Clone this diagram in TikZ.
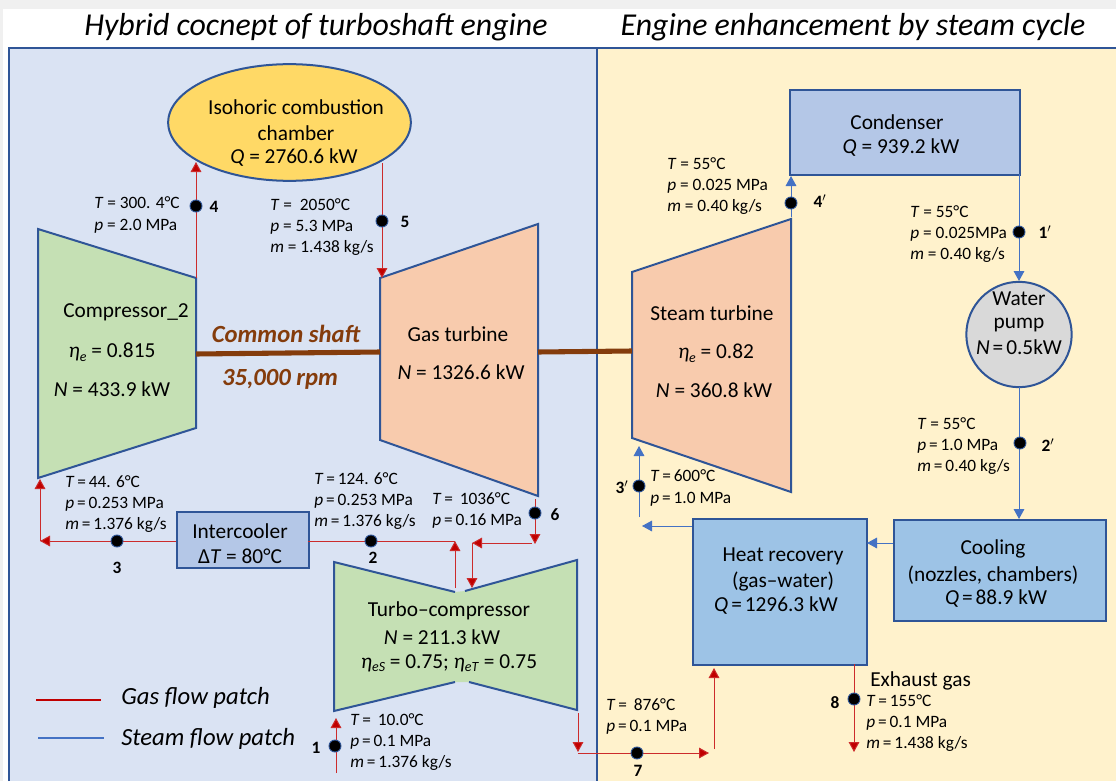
\documentclass[tikz,border=0pt]{standalone}
\usepackage{fontspec}
\setmainfont{Carlito}
\usetikzlibrary{arrows.meta,shapes.geometric}
\definecolor{edgeblue}{HTML}{2F5597}
\definecolor{gasred}{HTML}{C00000}
\definecolor{gaspale}{HTML}{CC2B2B}
\definecolor{steamblue}{HTML}{4472C4}
\definecolor{panelblue}{HTML}{DAE3F3}
\definecolor{panelcream}{HTML}{FFF2CC}
\definecolor{compgreen}{HTML}{C5E0B4}
\definecolor{turborange}{HTML}{F8CBAD}
\definecolor{burnyellow}{HTML}{FFD966}
\definecolor{boxblue}{HTML}{B4C7E7}
\definecolor{boxsky}{HTML}{9DC3E6}
\definecolor{pumpgrey}{HTML}{D9D9D9}
\definecolor{shaftbrown}{HTML}{843C0C}
\newcommand{\vv}[1]{\textit{#1}}
\newcommand{\teq}{\kern2.2pt=\kern2.2pt}
\newcommand{\lsub}[1]{\raisebox{-0.35ex}{\fontsize{10.5}{10.5}\selectfont\textit{#1}}}
\tikzset{
  x=0.75pt,y=-0.75pt,
  outlined/.style={draw=edgeblue,line width=1.5pt},
  gasflow/.style={draw=gaspale,line width=0.75pt,-{Triangle[length=7.5pt,width=8pt,fill=gasred]}},
  gasline/.style={draw=gaspale,line width=0.75pt},
  steamflow/.style={draw=steamblue,line width=0.75pt,-{Triangle[length=7.5pt,width=8pt,fill=steamblue]}},
  statedot/.style={circle,fill=black,draw=edgeblue,line width=0.7pt,inner sep=0pt,minimum size=9pt},
  statelabel/.style={anchor=west,align=left,inner sep=0pt,font=\fontsize{13}{15.8}\selectfont},
  stateno/.style={inner sep=0pt,font=\fontsize{13}{13}\selectfont\bfseries},
  bigtext/.style={inner sep=0pt,font=\fontsize{16}{16}\selectfont},
  boxnode/.style={outlined,inner sep=0pt,anchor=north west},
  title/.style={inner sep=0pt,font=\fontsize{23.9}{24}\selectfont\itshape},
  legendtext/.style={inner sep=0pt,anchor=west,font=\fontsize{18.5}{19}\selectfont\itshape},
  shaftline/.style={draw=shaftbrown,line width=3.8pt},
  shafttext/.style={inner sep=0pt,text=shaftbrown,font=\fontsize{18.5}{19}\selectfont\bfseries\itshape}
}
\begin{document}
\begin{tikzpicture}
\useasboundingbox (0,0) rectangle (1116,781);
% page
\fill[white] (0,0) rectangle (1116,781);
\fill[black!6] (0,0) rectangle (1116,9);
\fill[black!6] (0,0) rectangle (3,781);
% panels
\fill[panelblue] (9,48) rectangle (597,781);
\fill[panelcream] (597,48) rectangle (1116,781);
\draw[edgeblue,line width=1.5pt] (9,781) -- (9,48) -- (1116,48);
\draw[edgeblue,line width=1.5pt] (597,48) -- (597,781);
% titles
\node[title] (titleL) at (316,27) {Hybrid cocnept of turboshaft engine};
\node[title] (titleR) at (853,27) {Engine enhancement by steam cycle};

% equipment
\node[outlined,ellipse,fill=burnyellow,inner sep=0pt,minimum width=182pt,minimum height=87.5pt] (burner) at (289.5,122.5) {};
\coordinate (c1) at (38,229); \coordinate (c2) at (196,278); \coordinate (c3) at (196,428); \coordinate (c4) at (38,478);
\draw[outlined,fill=compgreen] (c1) -- (c2) -- (c3) -- (c4) -- cycle;
\coordinate (g1) at (380,278); \coordinate (g2) at (538,224); \coordinate (g3) at (538,496); \coordinate (g4) at (380,440);
\draw[outlined,fill=turborange] (g1) -- (g2) -- (g3) -- (g4) -- cycle;
\coordinate (s1) at (632,272); \coordinate (s2) at (791,219); \coordinate (s3) at (791,492); \coordinate (s4) at (632,438);
\draw[outlined,fill=turborange] (s1) -- (s2) -- (s3) -- (s4) -- cycle;
% turbo-compressor
\coordinate (t1) at (334,562); \coordinate (t2) at (455,592); \coordinate (t3) at (465,591);
\coordinate (t4) at (577,560); \coordinate (t5) at (577,710); \coordinate (t6) at (469,682);
\coordinate (t7) at (455,682); \coordinate (t8) at (334,711);
\fill[compgreen] (t1) -- (t2) -- (t3) -- (t4) -- (t5) -- (t6) -- (t7) -- (t8) -- cycle;
\draw[outlined] (t2) -- (t1) -- (t8) -- (t7);
\draw[outlined] (t3) -- (t4) -- (t5) -- (t6);

\node[boxnode,fill=boxblue,minimum width=99pt,minimum height=42pt] (cooler) at (176,511) {};
\node[boxnode,fill=boxblue,minimum width=172.5pt,minimum height=63.75pt] (condenser) at (789,89) {};
\node[outlined,circle,fill=pumpgrey,inner sep=0pt,minimum size=79pt] (pump) at (1019,334.5) {};
\node[boxnode,fill=boxsky,minimum width=130.5pt,minimum height=109.5pt] (recovery) at (692,518) {};
\node[boxnode,fill=boxsky,minimum width=159pt,minimum height=75.75pt] (cooling) at (893,519) {};

% shaft
\coordinate (sa1) at (196,354); \coordinate (sa2) at (380,352);
\coordinate (sb1) at (538,352); \coordinate (sb2) at (632,351);
\draw[shaftline] (sa1) -- (sa2);
\draw[shaftline] (sb1) -- (sb2);

% free ends of the flows
\coordinate (f4top) at (196,162);
\coordinate (f5top) at (382,163); \coordinate (f5bot) at (382,278);
\coordinate (f3R) at (176,541); \coordinate (f3L) at (40,541); \coordinate (f3T) at (40,479);
\coordinate (f2L) at (308,541); \coordinate (f2R) at (455,541); \coordinate (f2up) at (455,588);
\coordinate (f6T) at (535,499); \coordinate (f6B) at (535,544);
\coordinate (f6L0) at (532,543); \coordinate (f6L) at (472,543); \coordinate (f6D) at (472,588);
\coordinate (f7T) at (578,713); \coordinate (f7B) at (578,752);
\coordinate (f7S) at (578,753); \coordinate (f7R) at (709,753);
\coordinate (f7U0) at (714,749); \coordinate (f7U) at (714,668);
\coordinate (f8T) at (854,664); \coordinate (f8B) at (854,752);
\coordinate (f1B) at (336,773); \coordinate (f1T) at (336,718);
\coordinate (f4pB) at (791,217); \coordinate (f4pT) at (791,176);
\coordinate (f1pT) at (1019,174); \coordinate (f1pB) at (1019,281);
\coordinate (f2pT) at (1019,387); \coordinate (f2pB) at (1019,519);
\coordinate (fcoolR) at (893,543); \coordinate (fcoolL) at (867,543);
\coordinate (frecR) at (692,526); \coordinate (frecL) at (642,526);
\coordinate (f3pB) at (639,517); \coordinate (f3pT) at (639,446);

% gas flows
\draw[gasflow] (c2) -- (f4top);
\draw[gasflow] (f5top) -- (f5bot);
\draw[gasflow] (f3R) -- (f3L);
\draw[gasflow] (f3L) -- (f3T);
\draw[gasline] (f2L) -- (f2R);
\draw[gasflow] (f2up) -- (f2R);
\draw[gasflow] (f6T) -- (f6B);
\draw[gasflow] (f6L0) -- (f6L);
\draw[gasflow] (f6L) -- (f6D);
\draw[gasflow] (f7T) -- (f7B);
\draw[gasflow] (f7S) -- (f7R);
\draw[gasflow] (f7U0) -- (f7U);
\draw[gasflow] (f8T) -- (f8B);
\draw[gasflow] (f1B) -- (f1T);
% steam flows
\draw[steamflow] (f4pB) -- (f4pT);
\draw[steamflow] (f1pT) -- (f1pB);
\draw[steamflow] (f2pT) -- (f2pB);
\draw[steamflow] (fcoolR) -- (fcoolL);
\draw[steamflow] (frecR) -- (frecL);
\draw[steamflow] (f3pB) -- (f3pT);

% state points
\node[statedot] (p4) at (196,206) {};
\node[statedot] (p5) at (382,221) {};
\node[statedot] (p3) at (117,541) {};
\node[statedot] (p2) at (371,541) {};
\node[statedot] (p6) at (535,513) {};
\node[statedot] (p1) at (335,746) {};
\node[statedot] (p7) at (637,753) {};
\node[statedot] (p8) at (854,699) {};
\node[statedot] (p3p) at (639,486) {};
\node[statedot] (p4p) at (791,203) {};
\node[statedot] (p1p) at (1019,232) {};
\node[statedot] (p2p) at (1020,443) {};
\node[stateno] (n4) at (214,207) {4};
\node[stateno] (n5) at (405,222) {5};
\node[stateno] (n3) at (117,568) {3};
\node[stateno] (n2) at (373,558) {2};
\node[stateno] (n6) at (555,515) {6};
\node[stateno] (n1) at (316,748) {1};
\node[stateno] (n7) at (638,771) {7};
\node[stateno] (n8) at (835,703) {8};
\node[stateno] (n3p) at (622,487) {3$'$};
\node[stateno] (n4p) at (820,201) {4$'$};
\node[stateno] (n1p) at (1045,232) {1$'$};
\node[stateno] (n2p) at (1048,445) {2$'$};

% state labels
\node[statelabel] (l4) at (94,215) {\vv{T} = 300. 4°C\\\vv{p} = 2.0 MPa};
\node[statelabel] (l5) at (270,227) {\vv{T} =\ \ 2050°C\\\vv{p} = 5.3 MPa\\\vv{m} = 1.438 kg/s};
\node[statelabel] (l3) at (65,504) {\vv{T}\teq 44. 6°C\\\vv{p}\teq 0.253 MPa\\\vv{m}\teq 1.376 kg/s};
\node[statelabel] (l2) at (314,501) {\vv{T}\teq 124. 6°C\\\vv{p}\teq 0.253 MPa\\\vv{m}\teq 1.376 kg/s};
\node[statelabel] (l6) at (432,510) {\vv{T}\teq\ 1036°C\\\vv{p}\teq 0.16 MPa};
\node[statelabel] (l1) at (350,742) {\vv{T}\teq\ 10.0°C\\\vv{p}\teq 0.1 MPa\\\vv{m}\teq 1.376 kg/s};
\node[statelabel] (l7) at (606,716) {\vv{T}\teq\ 876°C\\\vv{p}\teq 0.1 MPa};
\node[statelabel] (l8) at (866,723) {\vv{T}\teq 155°C\\\vv{p}\teq 0.1 MPa\\\vv{m}\teq 1.438 kg/s};
\node[statelabel] (l3p) at (650,488) {\vv{T}\teq 600°C\\\vv{p}\teq 1.0 MPa};
\node[statelabel] (l4p) at (667,186) {\vv{T} = 55°C\\\vv{p} = 0.025 MPa\\\vv{m} = 0.40 kg/s};
\node[statelabel] (l1p) at (910,234) {\vv{T} = 55°C\\\vv{p} = 0.025MPa\\\vv{m} = 0.40 kg/s};
\node[statelabel] (l2p) at (917,446) {\vv{T} = 55°C\\\vv{p}\teq 1.0 MPa\\\vv{m}\teq 0.40 kg/s};

% equipment texts
\node[bigtext] (tb1) at (296,107) {Isohoric combustion};
\node[bigtext] (tb2) at (296,133) {chamber};
\node[bigtext] (tb3) at (294,158) {\vv{Q} = 2760.6 kW};
\node[bigtext] (tc1) at (126,312) {Compressor\_2};
\node[bigtext] (tc2) at (112,352) {\vv{η}\lsub{e} = 0.815};
\node[bigtext] (tc3) at (112,389) {\vv{N} = 433.9 kW};
\node[bigtext] (tg1) at (458,334) {Gas turbine};
\node[bigtext] (tg2) at (461,372) {\vv{N} = 1326.6 kW};
\node[bigtext] (ts1) at (712,313) {Steam turbine};
\node[bigtext] (ts2) at (716,353) {\vv{η}\lsub{e} = 0.82};
\node[bigtext] (ts3) at (714,390) {\vv{N} = 360.8 kW};
\node[bigtext] (ti1) at (240,531) {Intercooler};
\node[bigtext] (ti2) at (240,556) {Δ\vv{T} = 80°C};
\node[bigtext] (tt1) at (449,611) {Turbo–compressor};
\node[bigtext] (tt2) at (442,637) {\vv{N} = 211.3 kW};
\node[bigtext] (tt3) at (449,663) {\vv{η}\lsub{eS} = 0.75; \vv{η}\lsub{eT} = 0.75};
\node[bigtext] (tk1) at (897,122) {Condenser};
\node[bigtext] (tk2) at (901,148) {\vv{Q} = 939.2 kW};
\node[bigtext] (tp1) at (1019,299) {Water};
\node[bigtext] (tp2) at (1019,325) {pump};
\node[bigtext] (tp3) at (1019,347) {\vv{N}\teq 0.5kW};
\node[bigtext] (tr1) at (783,556) {Heat recovery};
\node[bigtext] (tr2) at (783,582) {(gas–water)};
\node[bigtext] (tr3) at (776,606) {\vv{Q}\teq 1296.3 kW};
\node[bigtext] (tq1) at (993,549) {Cooling};
\node[bigtext] (tq2) at (993,575) {(nozzles, chambers)};
\node[bigtext] (tq3) at (996,599) {\vv{Q}\teq 88.9 kW};
\node[bigtext,anchor=west] (tex) at (870,681) {Exhaust gas};
\node[shafttext] (sh1) at (286,334) {Common shaft};
\node[shafttext] (sh2) at (280,379) {35,000 rpm};

% legend
\coordinate (lg1) at (36,700); \coordinate (lg2) at (101,700);
\coordinate (ls1) at (38,738); \coordinate (ls2) at (104,738);
\draw[draw=gasred,line width=1.5pt] (lg1) -- (lg2);
\draw[draw=steamblue,line width=1.5pt] (ls1) -- (ls2);
\node[legendtext] (lgt) at (121,698) {Gas flow patch};
\node[legendtext] (lst) at (121,739) {Steam flow patch};
\end{tikzpicture}
\end{document}
